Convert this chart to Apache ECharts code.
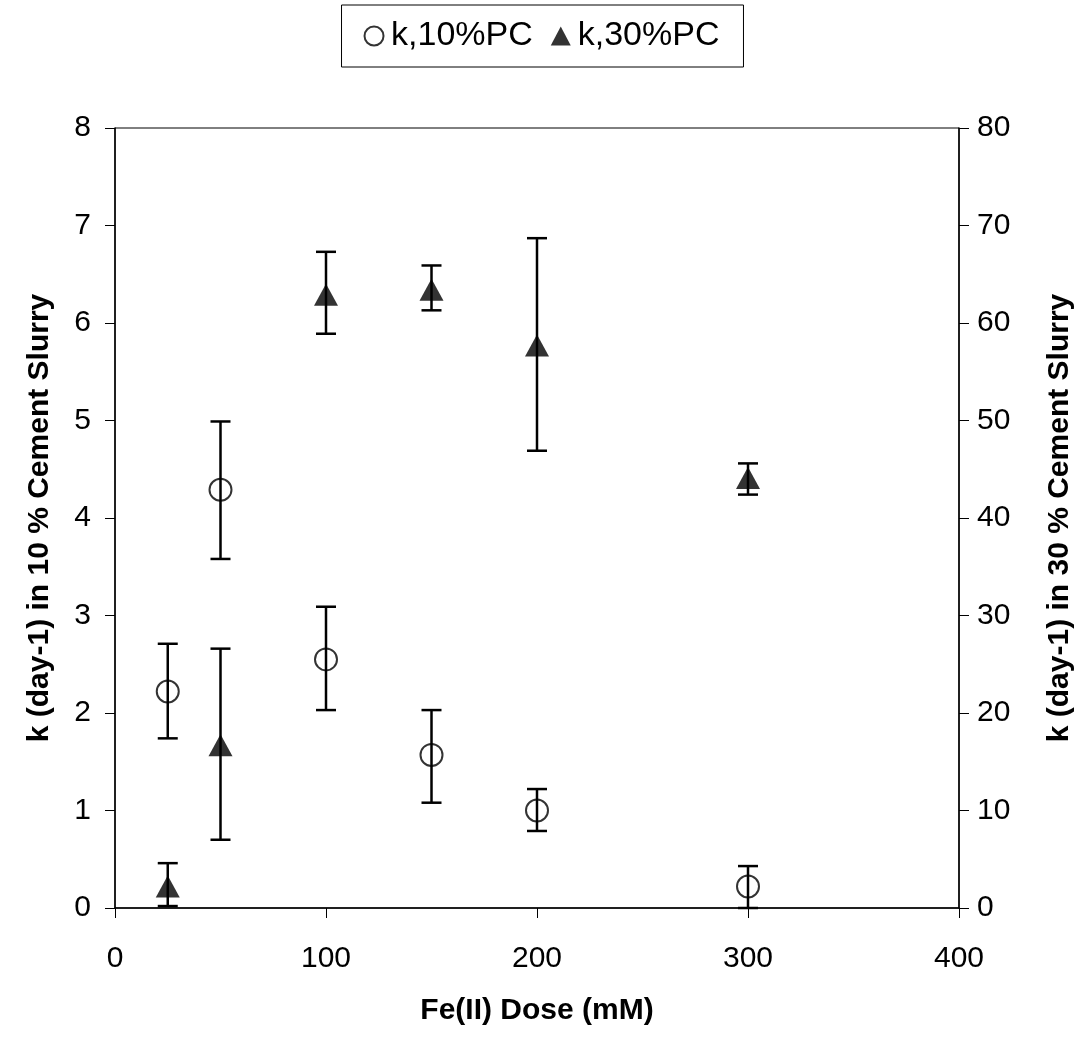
<!DOCTYPE html>
<html>
<head>
<meta charset="utf-8">
<script src="https://cdn.jsdelivr.net/npm/echarts@6/dist/echarts.min.js"></script>
<style>html,body{margin:0;padding:0;background:#fff;overflow:hidden;}#c{width:1083px;height:1039px;}</style>
</head>
<body>
<div id="c"></div>
<script>
// Data
var dose10 = [25, 50, 100, 150, 200, 300];
var k10 = [2.22, 4.29, 2.55, 1.57, 1.00, 0.22];
var k10Low = [1.74, 3.58, 2.03, 1.08, 0.79, 0.00];
var k10High = [2.71, 4.99, 3.09, 2.03, 1.22, 0.43];

var dose30 = [25, 50, 100, 150, 200, 300];
var k30 = [2.2, 16.7, 62.9, 63.4, 57.7, 44.1];
var k30Low = [0.2, 7.0, 58.9, 61.3, 46.9, 42.4];
var k30High = [4.6, 26.6, 67.3, 65.9, 68.7, 45.6];

var xTicks = [0, 100, 200, 300, 400];
var yLeftTicks = [0, 1, 2, 3, 4, 5, 6, 7, 8];
var yRightTicks = [0, 10, 20, 30, 40, 50, 60, 70, 80];

var FONT = '"Liberation Sans", Arial, sans-serif';

function pts(xs, ys) { return xs.map(function (x, i) { return [x, ys[i]]; }); }
function errs(xs, lo, hi) { return xs.map(function (x, i) { return [x, lo[i], hi[i]]; }); }

function renderErr(params, api) {
  var x = api.value(0);
  var p1 = api.coord([x, api.value(1)]);
  var p2 = api.coord([x, api.value(2)]);
  var hw = 10;
  var st = { stroke: '#000', lineWidth: 2.5 };
  return {
    type: 'group',
    children: [
      { type: 'line', shape: { x1: p1[0], y1: p1[1], x2: p2[0], y2: p2[1] }, style: st },
      { type: 'line', shape: { x1: p1[0] - hw, y1: p1[1], x2: p1[0] + hw, y2: p1[1] }, style: st },
      { type: 'line', shape: { x1: p2[0] - hw, y1: p2[1], x2: p2[0] + hw, y2: p2[1] }, style: st }
    ]
  };
}

var chart = echarts.init(document.getElementById('c'), null, { renderer: 'canvas', width: 1083, height: 1039 });
var axisCommon = {
  axisLine: { show: true, lineStyle: { color: '#000', width: 1.5 } },
  axisTick: { show: true, length: 10, lineStyle: { color: '#000', width: 1 } },
  splitLine: { show: false },
  axisLabel: { color: '#000', fontSize: 30, fontFamily: FONT },
  nameTextStyle: { color: '#000', fontSize: 30, fontWeight: 'bold', fontFamily: FONT }
};

chart.setOption({
  backgroundColor: '#fff',
  animation: false,
  grid: { left: 115, right: 121, top: 128, bottom: 131, show: true, borderColor: '#000', borderWidth: 1 },
  legend: {
    top: 5,
    left: 'center',
    data: ['k,10%PC', 'k,30%PC'],
    borderColor: '#000',
    borderWidth: 1,
    padding: [14, 24, 14, 22],
    itemGap: 18,
    itemWidth: 20,
    itemHeight: 19,
    textStyle: { color: '#000', fontSize: 34, fontFamily: FONT, padding: [0, 0, 0, 2] }
  },
  xAxis: Object.assign({}, axisCommon, {
    type: 'value', min: 0, max: 400, interval: 100,
    name: 'Fe(II) Dose (mM)', nameLocation: 'middle', nameGap: 88,
    axisLabel: Object.assign({}, axisCommon.axisLabel, { margin: 36, formatter: function (v) { return xTicks.indexOf(v) >= 0 ? String(v) : ''; } })
  }),
  yAxis: [
    Object.assign({}, axisCommon, {
      type: 'value', min: 0, max: 8, interval: 1, position: 'left',
      name: 'k (day-1) in 10 % Cement Slurry', nameLocation: 'middle', nameGap: 60, nameRotate: 90,
      axisLabel: Object.assign({}, axisCommon.axisLabel, { margin: 24, formatter: function (v) { return yLeftTicks.indexOf(v) >= 0 ? String(v) : ''; } })
    }),
    Object.assign({}, axisCommon, {
      type: 'value', min: 0, max: 80, interval: 10, position: 'right',
      name: 'k (day-1) in 30 % Cement Slurry', nameLocation: 'middle', nameGap: 86, nameRotate: 90,
      axisLabel: Object.assign({}, axisCommon.axisLabel, { margin: 18, formatter: function (v) { return yRightTicks.indexOf(v) >= 0 ? String(v) : ''; } })
    })
  ],
  series: [
    {
      name: 'k,10%PC', type: 'scatter', yAxisIndex: 0,
      symbol: 'emptyCircle', symbolSize: 22,
      itemStyle: { color: '#000', borderColor: '#000', borderWidth: 2.5 },
      data: pts(dose10, k10), z: 3
    },
    {
      name: 'k,30%PC', type: 'scatter', yAxisIndex: 1,
      symbol: 'triangle', symbolSize: [24, 22],
      itemStyle: { color: '#000' },
      data: pts(dose30, k30), z: 3
    },
    {
      name: 'err10', type: 'custom', yAxisIndex: 0, renderItem: renderErr,
      data: errs(dose10, k10Low, k10High), z: 4, silent: true
    },
    {
      name: 'err30', type: 'custom', yAxisIndex: 1, renderItem: renderErr,
      data: errs(dose30, k30Low, k30High), z: 2, silent: true
    }
  ]
});
</script>
</body>
</html>
